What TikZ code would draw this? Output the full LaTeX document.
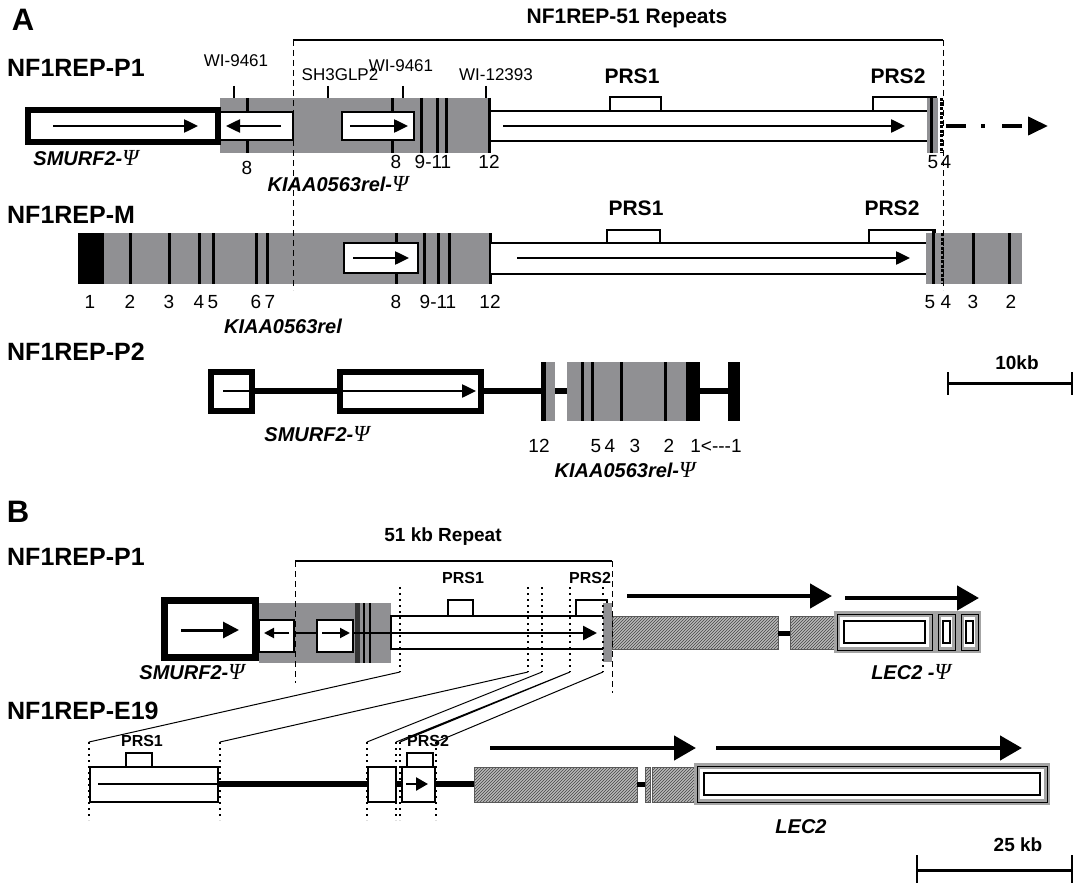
\documentclass[tikz,border=0pt]{standalone}
\usepackage{fontspec}
\setmainfont{Liberation Sans}
\newfontfamily\psifont{Liberation Serif}
\newcommand{\psig}{{\psifont\fontsize{23}{24}\selectfont\mdseries\itshape Ψ}}
\usetikzlibrary{arrows.meta,patterns}
\definecolor{exongrey}{HTML}{909093}
\definecolor{hatchgrey}{HTML}{B9B9B9}
\definecolor{lecgrey}{HTML}{A4A4A4}

\begin{document}
\begin{tikzpicture}[x=1pt,y=-1pt,
    every node/.style={inner sep=0pt},
    panel/.style={font=\fontsize{31}{36}\selectfont\bfseries},
    rowname/.style={anchor=west,font=\fontsize{25}{30}\selectfont\bfseries},
    gene/.style={font=\fontsize{20}{24}\selectfont\bfseries\itshape},
    num/.style={font=\fontsize{19}{22}\selectfont},
    marker/.style={font=\fontsize{17}{20}\selectfont},
    prs/.style={font=\fontsize{21}{25}\selectfont\bfseries},
    prsb/.style={font=\fontsize{16}{19}\selectfont\bfseries},
    bar/.style={line width=3pt},
    wbox/.style={draw,fill=white,line width=1.6pt},
    gbox/.style={draw,fill=white,line width=6pt},
    arr/.style={line width=2.5pt,-{Triangle[length=14pt,width=13pt]}},
    bigarr/.style={line width=4.5pt,-{Triangle[length=22pt,width=24pt]}},
    dotv/.style={line width=2.4pt,dash pattern=on 2.4pt off 3.6pt},
    dashv/.style={line width=1pt,dash pattern=on 6pt off 4pt},
    hatch/.style={draw=gray!70!black,line width=0.8pt,preaction={fill=hatchgrey},pattern=north east lines,pattern color=gray!55!black},
    lec/.style={draw=lecgrey,line width=6pt,fill=white,postaction={draw=black,line width=1pt}},
    intron/.style={line width=6pt}]
  \useasboundingbox (0,0) rectangle (1085,883);

  % panel A
  \node[panel] (pA) at (23,20) {A};
  \node[prs] (rep51) at (627,18) {NF1REP-51 Repeats};
  \draw[line width=1.6pt] (293,40) -- (943,40);

  % NF1REP-P1
  \node[rowname] (p1) at (7,68) {NF1REP-P1};
  \fill[exongrey] (220,98) rectangle (490,153);
  \foreach \x in {247,392,421,437,446,489} \draw[bar] (\x,98) -- (\x,153);
  \draw[wbox] (220,112) rectangle (293,140);
  \draw[wbox] (342,112) rectangle (414,140);
  \draw[arr] (281,126) -- (226,126);
  \draw[arr] (350,126) -- (408,126);
  \draw[gbox] (28,110) rectangle (218,142);
  \draw[arr] (53,126) -- (198,126);
  \draw[wbox,line width=2pt] (490,111) rectangle (930,141);
  \draw[arr] (503,126) -- (905,126);
  \draw[wbox] (610,97) rectangle (661,111);
  \draw[wbox] (873,97) rectangle (936,111);
  \fill[exongrey] (927,98) rectangle (938,153);
  \draw[bar] (931,98) -- (931,153);
  \draw[bar,dash pattern=on 3pt off 1.5pt] (941,98) -- (941,153);
  \draw[line width=4pt,dash pattern=on 20pt off 15pt on 4pt off 17pt,-{Triangle[length=20pt,width=18pt]}] (946,126) -- (1048,126);
  \foreach \x in {234,328,403,486} \draw[line width=1.5pt] (\x,86) -- (\x,98);
  \node[marker] (wi1) at (236,61) {WI-9461};
  \node[marker] (sh3) at (340,75) {SH3GLP2};
  \node[marker] (wi2) at (401,66) {WI-9461};
  \node[marker] (wi3) at (496,75) {WI-12393};
  \node[prs] (p1prs1) at (632,76) {PRS1};
  \node[prs] (p1prs2) at (898,76) {PRS2};
  \node[num] (p1e8) at (247,168) {8};
  \foreach \x/\t [count=\i] in {396/8,433/9-11,489/12,933/5,946/4} \node[num] (p1n\i) at (\x,162) {\t};
  \node[gene] (p1smurf) at (86,158) {SMURF2-\psig};
  \node[gene] (p1kiaa) at (338,184) {KIAA0563rel-\psig};

  % NF1REP-M
  \node[rowname] (m) at (7,215) {NF1REP-M};
  \fill[exongrey] (78,233) rectangle (490,284);
  \fill[black] (78,233) rectangle (104,284);
  \foreach \x in {130,169,199,213,256,267,396,424,438,449,490} \draw[bar] (\x,233) -- (\x,284);
  \draw[wbox] (344,243) rectangle (418,273);
  \draw[arr] (353,258) -- (409,258);
  \draw[wbox,line width=2pt] (490,243) rectangle (930,274);
  \draw[arr] (517,258) -- (910,258);
  \draw[wbox] (607,230) rectangle (660,243);
  \draw[wbox] (869,230) rectangle (935,243);
  \fill[exongrey] (926,233) rectangle (1022,284);
  \draw[bar] (933,230) -- (933,284);
  \draw[bar,dash pattern=on 3pt off 1.5pt] (942,233) -- (942,284);
  \foreach \x in {973,1009} \draw[bar] (\x,233) -- (\x,284);
  \foreach \x/\t [count=\i] in {90/1,130/2,169/3,199/4,213/5,256/6,270/7,396/8,438/9-11,490/12,930/5,946/4,973/3,1011/2}
    \node[num] (mn\i) at (\x,302) {\t};
  \node[prs] (mprs1) at (636,208) {PRS1};
  \node[prs] (mprs2) at (892,208) {PRS2};
  \node[gene] (mkiaa) at (283,326) {KIAA0563rel};

  % NF1REP-P2
  \node[rowname] (p2) at (7,352) {NF1REP-P2};
  \draw[intron] (255,391) -- (337,391) (484,391) -- (541,391) (555,391) -- (567,391) (700,391) -- (728,391);
  \draw[gbox] (211,372) rectangle (252,411);
  \draw[gbox] (340,372) rectangle (481,411);
  \draw[arr] (223,391) -- (476,391);
  \fill[black] (541,362) rectangle (546,421);
  \fill[exongrey] (546,362) rectangle (555,421);
  \fill[exongrey] (567,362) rectangle (686,421);
  \foreach \x in {582,592,621,665} \draw[bar] (\x,362) -- (\x,421);
  \fill[black] (686,362) rectangle (700,421);
  \fill[black] (728,362) rectangle (740,421);
  \foreach \x/\t [count=\i] in {539/12,596/5,610/4,635/3,669/2} \node[num] (p2n\i) at (\x,446) {\t};
  \node[num] (p2n6) at (716,446) {1<{-}{-}{-}1};
  \node[gene] (p2smurf) at (317,434) {SMURF2-\psig};
  \node[gene] (p2kiaa) at (625,470) {KIAA0563rel-\psig};

  % scale 10kb
  \draw[line width=3pt] (948,383) -- (1072,383);
  \draw[line width=2pt] (948,372) -- (948,395) (1072,372) -- (1072,395);
  \node[font=\fontsize{19}{22}\selectfont\bfseries] (kb10) at (1017,363) {10kb};

  \draw[dashv] (293,40) -- (293,290);
  \draw[dashv] (943,40) -- (943,290);

  % panel B
  \node[panel] (pB) at (18,512) {B};
  \node[rowname] (bp1) at (7,557) {NF1REP-P1};
  \node[font=\fontsize{19}{22}\selectfont\bfseries] (rep51b) at (443,537) {51 kb Repeat};
  \draw[line width=1.6pt] (295,561) -- (612,561);
  \fill[exongrey] (259,603) rectangle (391,663);
  \draw[line width=5pt,draw=gray!40!black] (357,603) -- (357,663);
  \foreach \x in {364,370} \draw[line width=1.5pt] (\x,603) -- (\x,663);
  \draw[wbox] (259,620) rectangle (294,652);
  \draw[wbox] (317,620) rectangle (353,652);
  \draw[line width=2.5pt] (294,633) -- (317,633) (353,633) -- (391,633);
  \draw[line width=2pt,-{Triangle[length=10pt,width=10pt]}] (289,633) -- (264,633);
  \draw[line width=2pt,-{Triangle[length=10pt,width=10pt]}] (322,633) -- (350,633);
  \draw[line width=7pt,fill=white] (164.5,600.5) rectangle (255.5,657.5);
  \draw[line width=3pt,-{Triangle[length=16pt,width=16pt]}] (181,630) -- (239,630);
  \draw[wbox,line width=2.5pt] (391,616) rectangle (604,649);
  \draw[line width=2.5pt,-{Triangle[length=14pt,width=14pt]}] (391,633) -- (597,633);
  \draw[wbox,line width=1.5pt] (448,600) rectangle (473,616);
  \draw[wbox,line width=1.5pt] (576,600) rectangle (607,616);
  \node[prsb] (bprs1) at (463,578) {PRS1};
  \node[prsb] (bprs2) at (590,578) {PRS2};
  \fill[exongrey] (603,603) rectangle (612,662);
  \draw[hatch] (612,616) rectangle (778,649);
  \draw[line width=5pt] (778,633) -- (790,633);
  \draw[hatch] (790,616) rectangle (834,649);
  \draw[lec] (837,614) rectangle (932,650);
  \draw[line width=1.2pt] (844,621) rectangle (925,643);
  \foreach \x in {938,961} {
    \draw[lec] (\x,614) rectangle (\x+17,650);
    \draw[line width=1.2pt] (\x+5,621) rectangle (\x+12,643);
  }
  \draw[bigarr] (627,596) -- (832,596);
  \draw[bigarr] (845,598) -- (979,598);
  \node[gene] (bsmurf) at (192,672) {SMURF2-\psig};
  \node[gene] (blecp) at (911,672) {LEC2 -\psig};
  \draw[dashv] (295,561) -- (295,683);
  \draw[dashv] (612,561) -- (612,693);
  \foreach \x [count=\i] in {400,528,542,570,603} {
    \draw[dotv] (\x,587) -- (\x,672);
    \coordinate (t\i) at (\x,672);
  }

  % NF1REP-E19
  \node[rowname] (e19) at (7,711) {NF1REP-E19};
  \draw[intron] (218,784) -- (368,784) (396,784) -- (402,784) (435,784) -- (474,784);
  \draw[wbox,line width=2.5pt] (90,767) rectangle (218,802);
  \draw[line width=2.5pt] (98,784) -- (218,784);
  \draw[wbox,line width=2.5pt] (368,767) rectangle (396,802);
  \draw[wbox,line width=2.5pt] (402,767) rectangle (435,802);
  \draw[line width=2.5pt,-{Triangle[length=12pt,width=13pt]}] (406,784) -- (428,784);
  \draw[wbox,line width=1.5pt] (126,753) rectangle (152,767);
  \draw[wbox,line width=1.5pt] (407,753) rectangle (433,767);
  \node[prsb] (eprs1) at (142,741) {PRS1};
  \node[prsb] (eprs2) at (428,741) {PRS2};
  \draw[hatch] (474,767) rectangle (637,802);
  \draw[line width=5pt] (637,784) -- (645,784);
  \draw[hatch] (645,767) rectangle (650,802);
  \draw[hatch] (652,767) rectangle (694,802);
  \draw[lec] (697,766) rectangle (1047,802);
  \draw[line width=1.2pt] (704,773) rectangle (1040,795);
  \draw[bigarr] (490,748) -- (696,748);
  \draw[bigarr] (716,748) -- (1022,748);
  \node[gene] (lec2) at (801,827) {LEC2};
  \foreach \x [count=\i] in {89,220,367,396,400,436} {
    \draw[dotv] (\x,742) -- (\x,820);
    \coordinate (b\i) at (\x,742);
  }
  \draw[line width=1pt] (b1) -- (t1) (b2) -- (t2) (b3) -- (t3) (b4) -- (t4) (b5) -- (t4) (b6) -- (t5);

  % scale 25 kb
  \draw[line width=3pt] (917,870) -- (1072,870);
  \draw[line width=2pt] (917,855) -- (917,883) (1072,855) -- (1072,883);
  \node[font=\fontsize{19}{22}\selectfont\bfseries] (kb25) at (1018,845) {25 kb};
\end{tikzpicture}
\end{document}
